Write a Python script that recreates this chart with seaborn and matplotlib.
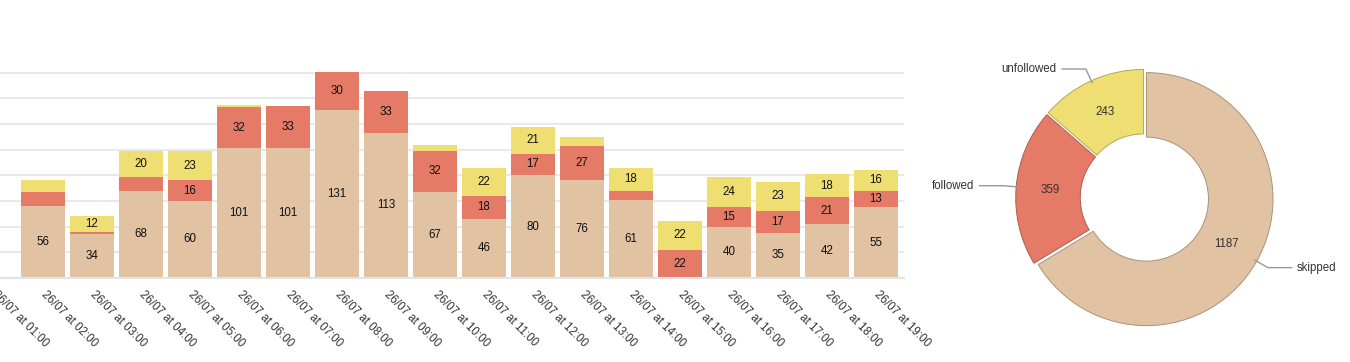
import numpy as np
import pandas as pd
import seaborn as sns
from matplotlib import pyplot as plt
import matplotlib.colors as mcolors

hours = ['26/07 at 01:00', '26/07 at 02:00', '26/07 at 03:00', '26/07 at 04:00',
         '26/07 at 05:00', '26/07 at 06:00', '26/07 at 07:00', '26/07 at 08:00',
         '26/07 at 09:00', '26/07 at 10:00', '26/07 at 11:00', '26/07 at 12:00',
         '26/07 at 13:00', '26/07 at 14:00', '26/07 at 15:00', '26/07 at 16:00',
         '26/07 at 17:00', '26/07 at 18:00', '26/07 at 19:00']
skipped = [0, 56, 34, 68, 60, 101, 101, 131, 113, 67, 46, 80, 76, 61, 0, 40, 35, 42, 55]
followed = [0, 11, 2, 11, 16, 32, 33, 30, 33, 32, 18, 17, 27, 7, 22, 15, 17, 21, 13]
unfollowed = [0, 9, 12, 20, 23, 2, 0, 0, 0, 5, 22, 21, 7, 18, 22, 24, 23, 18, 16]

pie_labels = ['skipped', 'followed', 'unfollowed']
pie_values = [1187, 359, 243]

colors = {'skipped': '#E1C2A3', 'followed': '#E57B67', 'unfollowed': '#EFDF72'}

sns.set_theme(style='white')
plt.rcParams['font.family'] = ['Liberation Sans', 'DejaVu Sans']

W, H = 1350, 362
fig = plt.figure(figsize=(W / 100, H / 100), dpi=100)

# stacked bars
df = pd.DataFrame({'hour': hours, 'skipped': skipped, 'followed': followed, 'unfollowed': unfollowed})
ax = fig.add_axes([-30.5 / W, (H - 277.7) / H, 934.5 / W, 211.2 / H])
bottom = np.zeros(len(df))
for col in ['skipped', 'followed', 'unfollowed']:
    sns.barplot(data=df, x='hour', y=col, color=colors[col], bottom=bottom, width=0.9,
                errorbar=None, saturation=1, linewidth=0, ax=ax)
    for i, (v, b) in enumerate(zip(df[col], bottom)):
        if v >= 12:
            ax.text(i, b + v / 2, str(v), ha='center', va='center', fontsize=8.3, color='#111111')
    bottom = bottom + df[col].values

ax.set_xlim(-0.5, 18.571)
ax.set_ylim(0, 165)
ax.set_yticks(range(0, 161, 20))
ax.set_yticklabels([])
ax.yaxis.grid(True, color='#e9e9e9', lw=1.5)
ax.set_axisbelow(True)
ax.tick_params(axis='y', length=0)
for s in ['left', 'top', 'right']:
    ax.spines[s].set_visible(False)
ax.spines['bottom'].set_color('#e3e3e3')
ax.spines['bottom'].set_linewidth(1.5)
ax.set_xticks(range(len(hours)))
ax.set_xticklabels(hours, rotation=-45, ha='left', va='center', rotation_mode='anchor',
                   fontsize=8.3, color='#333333')
ax.tick_params(axis='x', length=5, width=1.2, color='#aaaaaa', pad=6)
ax.set_xlabel('')
ax.set_ylabel('')

# donut
R = 126.5
cx, cy = 1144.5, 198
pax = fig.add_axes([900 / W, 0, 450 / W, 1])
pie_colors = [colors[k] for k in pie_labels]
wedges, _ = pax.pie(pie_values, colors=pie_colors, startangle=90, counterclock=False,
                    radius=1, explode=[0.018] * 3,
                    wedgeprops=dict(width=0.51, linewidth=0.7))
for w, c in zip(wedges, pie_colors):
    rgb = np.array(mcolors.to_rgb(c)) * 0.75
    w.set_edgecolor(rgb)

for w, lab, val in zip(wedges, pie_labels, pie_values):
    th = np.deg2rad((w.theta1 + w.theta2) / 2)
    c, s = np.cos(th), np.sin(th)
    pax.text(0.745 * c, 0.745 * s, str(val), ha='center', va='center', fontsize=8.3, color='#333333')
    sign = 1 if c >= 0 else -1
    x0, y0 = 1.0 * c, 1.0 * s
    x1, y1 = 1.12 * c, 1.12 * s
    x2 = x1 + sign * 0.19
    pax.plot([x0, x1, x2], [y0, y1, y1], color='#999999', lw=1)
    pax.text(x2 + sign * 0.04, y1, lab, ha='left' if sign > 0 else 'right', va='center',
             fontsize=8.3, color='#333333')

pax.set_xlim((900 - cx) / R, (W - cx) / R)
pax.set_ylim(-(H - cy) / R, cy / R)
pax.set_aspect('auto')
pax.axis('off')

fig.savefig('out.png', dpi=100)
